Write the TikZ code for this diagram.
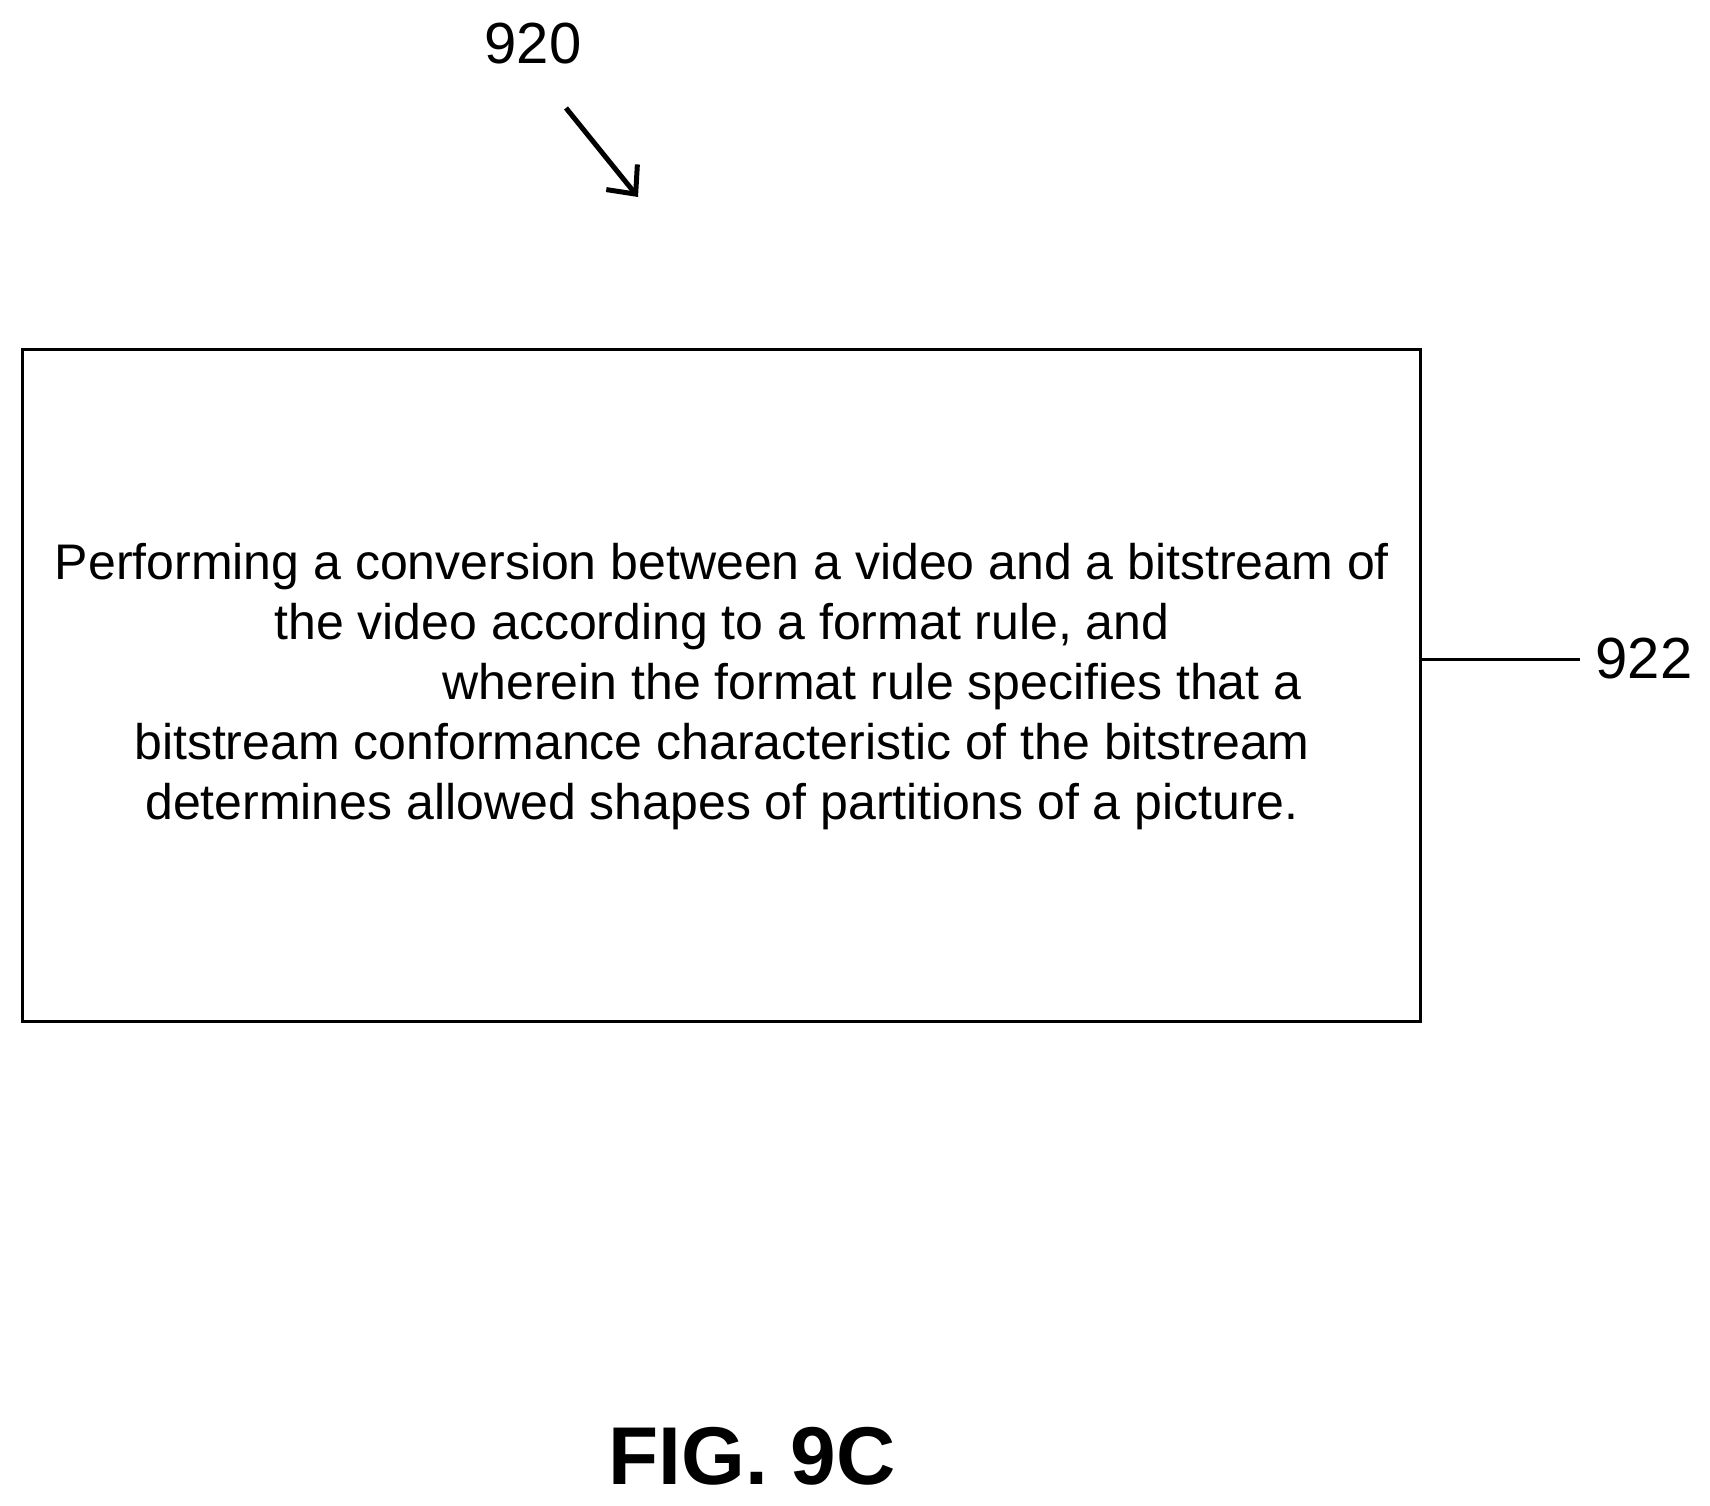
\documentclass[tikz,border=0pt]{standalone}
\usepackage{fontspec}
\setmainfont{Liberation Sans}
\usetikzlibrary{arrows.meta}
\begin{document}
\begin{tikzpicture}[x=1pt,y=-1pt,line width=3pt]
\useasboundingbox (0,0) rectangle (1710,1506);
\path (533,44) node (920) {\fontsize{58}{60}\selectfont 920};
\coordinate (a1) at (566,108);
\coordinate (a2) at (638,197);
\draw[line width=5pt,-{Straight Barb[length=22pt,width=40pt,line width=5pt]}] (a1) -- (a2);

\draw (22,349) rectangle (1420,1021);
\path (722,687) node[align=center,font=\fontsize{50}{60}\selectfont] (922box) {%
Performing a conversion between a video and a bitstream of\\
the video according to a format rule, and\\
\hspace*{300pt}wherein the format rule specifies that a\\
bitstream conformance characteristic of the bitstream\\
determines allowed shapes of partitions of a picture.};

\coordinate (b1) at (1420,659);
\path (1644,659) node[inner sep=14pt] (922) {\fontsize{58}{60}\selectfont 922};
\draw (b1) -- (922.west);

\path (752,1456) node (fig) {\fontsize{82}{84}\selectfont\bfseries FIG. 9C};
\end{tikzpicture}
\end{document}
